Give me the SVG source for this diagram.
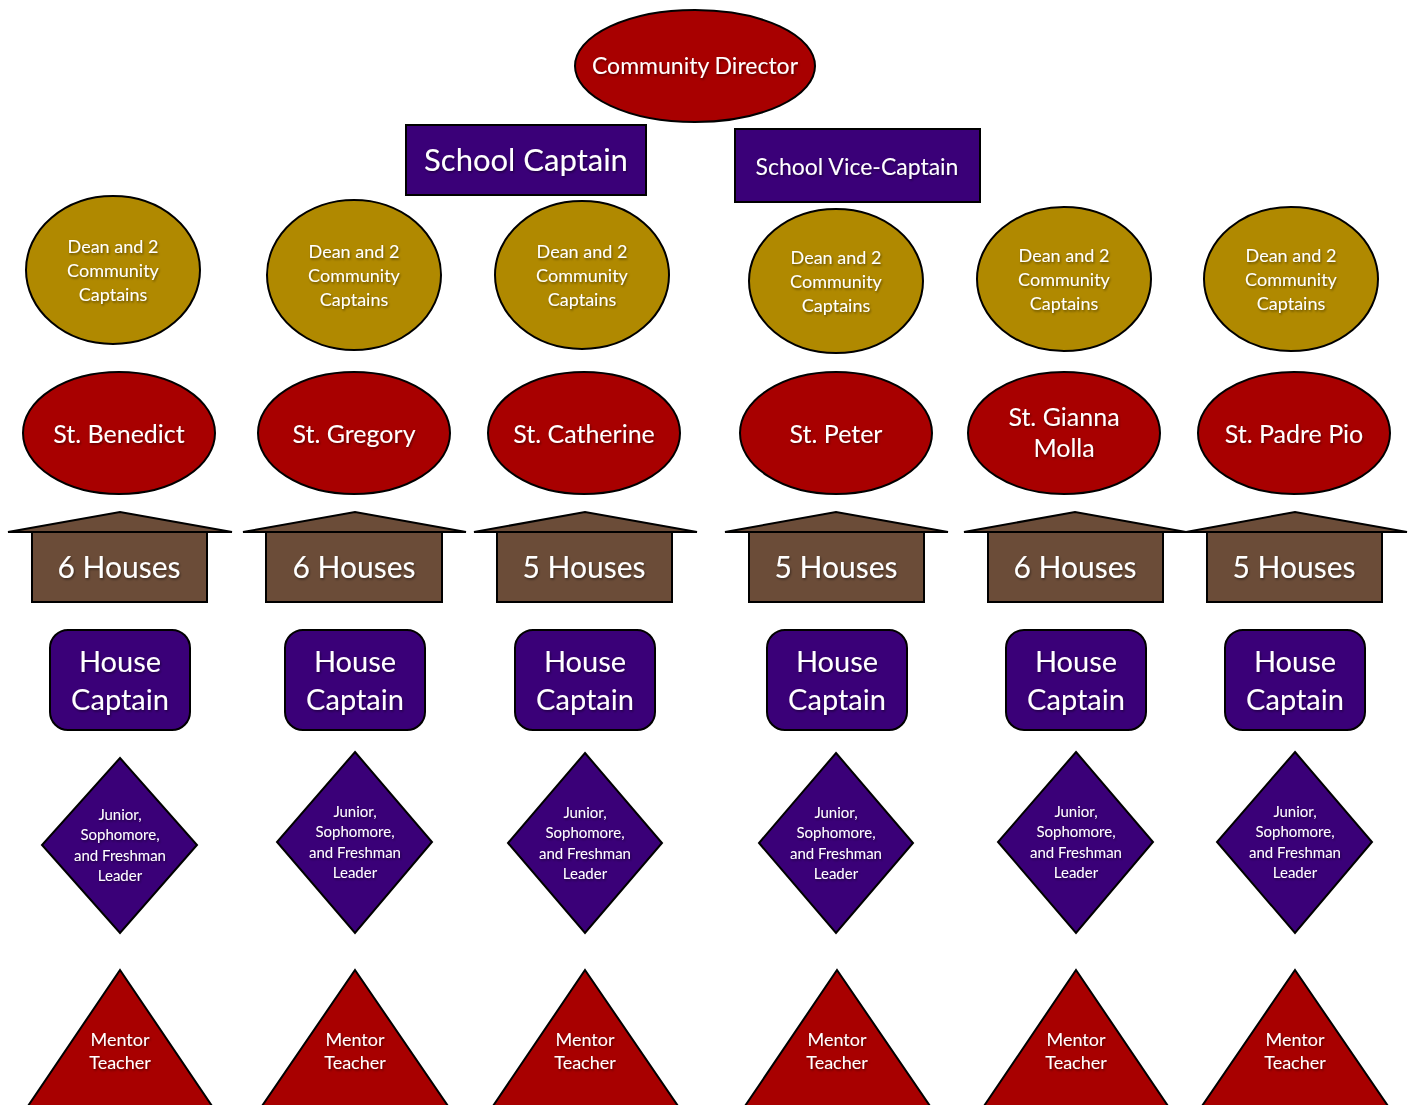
<svg xmlns="http://www.w3.org/2000/svg" width="1413" height="1105" viewBox="0 0 1413 1105">
<defs>
<filter id="ts" x="-10%" y="-30%" width="120%" height="160%"><feDropShadow dx="1" dy="1.5" stdDeviation="1" flood-color="#000" flood-opacity="0.45"/></filter>
<style>
.red{fill:#a80000;stroke:#000;stroke-width:2}
.gold{fill:#b08900;stroke:#000;stroke-width:2}
.pur{fill:#3a0078;stroke:#000;stroke-width:2}
.brn{fill:#6b4c38;stroke:#000;stroke-width:2}
text{font-family:Lato,"Open Sans",sans-serif;fill:#fff;text-anchor:middle;filter:url(#ts)}
.t22{font-size:23px}
.t30{font-size:31px}
.g{font-size:18px}
.s{font-size:25px}
.h{font-size:30px}
.hc{font-size:29px}
.d{font-size:15px}
.m{font-size:18px}
</style>
</defs>
<rect width="1413" height="1105" fill="#fff"/>
<g id="community-director"><ellipse class="red" cx="695" cy="66" rx="120" ry="56"/><text class="t22" x="695" y="74">Community Director</text></g>
<g id="school-captain"><rect class="pur" x="406" y="125" width="240" height="70"/><text class="t30" x="526" y="171">School Captain</text></g>
<g id="school-vice-captain"><rect class="pur" x="735" y="129" width="245" height="73"/><text class="t22" x="857" y="175">School Vice-Captain</text></g>

<g id="dean-1"><ellipse class="gold" cx="113" cy="270" rx="87" ry="74"/><text class="g"><tspan x="113" y="253">Dean and 2</tspan><tspan x="113" y="277">Community</tspan><tspan x="113" y="301">Captains</tspan></text></g>
<g id="dean-2"><ellipse class="gold" cx="354" cy="275" rx="87" ry="75"/><text class="g"><tspan x="354" y="258">Dean and 2</tspan><tspan x="354" y="282">Community</tspan><tspan x="354" y="306">Captains</tspan></text></g>
<g id="dean-3"><ellipse class="gold" cx="582" cy="275" rx="87" ry="74"/><text class="g"><tspan x="582" y="258">Dean and 2</tspan><tspan x="582" y="282">Community</tspan><tspan x="582" y="306">Captains</tspan></text></g>
<g id="dean-4"><ellipse class="gold" cx="836" cy="281" rx="87" ry="72"/><text class="g"><tspan x="836" y="264">Dean and 2</tspan><tspan x="836" y="288">Community</tspan><tspan x="836" y="312">Captains</tspan></text></g>
<g id="dean-5"><ellipse class="gold" cx="1064" cy="279" rx="87" ry="72"/><text class="g"><tspan x="1064" y="262">Dean and 2</tspan><tspan x="1064" y="286">Community</tspan><tspan x="1064" y="310">Captains</tspan></text></g>
<g id="dean-6"><ellipse class="gold" cx="1291" cy="279" rx="87" ry="72"/><text class="g"><tspan x="1291" y="262">Dean and 2</tspan><tspan x="1291" y="286">Community</tspan><tspan x="1291" y="310">Captains</tspan></text></g>

<g id="st-benedict"><ellipse class="red" cx="119" cy="433" rx="96" ry="61"/><text class="s" x="119" y="443">St. Benedict</text></g>
<g id="st-gregory"><ellipse class="red" cx="354" cy="433" rx="96" ry="61"/><text class="s" x="354" y="443">St. Gregory</text></g>
<g id="st-catherine"><ellipse class="red" cx="584" cy="433" rx="96" ry="61"/><text class="s" x="584" y="443">St. Catherine</text></g>
<g id="st-peter"><ellipse class="red" cx="836" cy="433" rx="96" ry="61"/><text class="s" x="836" y="443">St. Peter</text></g>
<g id="st-gianna-molla"><ellipse class="red" cx="1064" cy="433" rx="96" ry="61"/><text class="s"><tspan x="1064" y="426">St. Gianna</tspan><tspan x="1064" y="457">Molla</tspan></text></g>
<g id="st-padre-pio"><ellipse class="red" cx="1294" cy="433" rx="96" ry="61"/><text class="s" x="1294" y="443">St. Padre Pio</text></g>

<g id="houses-1"><polygon class="brn" points="8,532 120,512 232,532"/><rect class="brn" x="32" y="532" width="175" height="70"/><text class="h" x="119" y="578">6 Houses</text></g>
<g id="houses-2"><polygon class="brn" points="243,532 355,512 466,532"/><rect class="brn" x="266" y="532" width="176" height="70"/><text class="h" x="354" y="578">6 Houses</text></g>
<g id="houses-3"><polygon class="brn" points="474,532 585,512 697,532"/><rect class="brn" x="497" y="532" width="175" height="70"/><text class="h" x="584" y="578">5 Houses</text></g>
<g id="houses-4"><polygon class="brn" points="725,532 836,512 948,532"/><rect class="brn" x="749" y="532" width="175" height="70"/><text class="h" x="836" y="578">5 Houses</text></g>
<g id="houses-5"><polygon class="brn" points="964,532 1075,512 1186,532"/><rect class="brn" x="988" y="532" width="175" height="70"/><text class="h" x="1075" y="578">6 Houses</text></g>
<g id="houses-6"><polygon class="brn" points="1186,532 1295,512 1407,532"/><rect class="brn" x="1207" y="532" width="175" height="70"/><text class="h" x="1294" y="578">5 Houses</text></g>

<g id="house-captain-1"><rect class="pur" x="50" y="630" width="140" height="100" rx="18"/><text class="hc"><tspan x="120" y="672">House</tspan><tspan x="120" y="710">Captain</tspan></text></g>
<g id="house-captain-2"><rect class="pur" x="285" y="630" width="140" height="100" rx="18"/><text class="hc"><tspan x="355" y="672">House</tspan><tspan x="355" y="710">Captain</tspan></text></g>
<g id="house-captain-3"><rect class="pur" x="515" y="630" width="140" height="100" rx="18"/><text class="hc"><tspan x="585" y="672">House</tspan><tspan x="585" y="710">Captain</tspan></text></g>
<g id="house-captain-4"><rect class="pur" x="767" y="630" width="140" height="100" rx="18"/><text class="hc"><tspan x="837" y="672">House</tspan><tspan x="837" y="710">Captain</tspan></text></g>
<g id="house-captain-5"><rect class="pur" x="1006" y="630" width="140" height="100" rx="18"/><text class="hc"><tspan x="1076" y="672">House</tspan><tspan x="1076" y="710">Captain</tspan></text></g>
<g id="house-captain-6"><rect class="pur" x="1225" y="630" width="140" height="100" rx="18"/><text class="hc"><tspan x="1295" y="672">House</tspan><tspan x="1295" y="710">Captain</tspan></text></g>

<g id="leader-1"><polygon class="pur" points="120,758 197,845 120,933 42,845"/><text class="d"><tspan x="120" y="820">Junior,</tspan><tspan x="120" y="840">Sophomore,</tspan><tspan x="120" y="861">and Freshman</tspan><tspan x="120" y="881">Leader</tspan></text></g>
<g id="leader-2"><polygon class="pur" points="355,752 432,842 355,933 277,842"/><text class="d"><tspan x="355" y="817">Junior,</tspan><tspan x="355" y="837">Sophomore,</tspan><tspan x="355" y="858">and Freshman</tspan><tspan x="355" y="878">Leader</tspan></text></g>
<g id="leader-3"><polygon class="pur" points="585,753 662,843 585,933 508,843"/><text class="d"><tspan x="585" y="818">Junior,</tspan><tspan x="585" y="838">Sophomore,</tspan><tspan x="585" y="859">and Freshman</tspan><tspan x="585" y="879">Leader</tspan></text></g>
<g id="leader-4"><polygon class="pur" points="836,753 913,843 836,933 759,843"/><text class="d"><tspan x="836" y="818">Junior,</tspan><tspan x="836" y="838">Sophomore,</tspan><tspan x="836" y="859">and Freshman</tspan><tspan x="836" y="879">Leader</tspan></text></g>
<g id="leader-5"><polygon class="pur" points="1076,752 1153,842 1076,933 998,842"/><text class="d"><tspan x="1076" y="817">Junior,</tspan><tspan x="1076" y="837">Sophomore,</tspan><tspan x="1076" y="858">and Freshman</tspan><tspan x="1076" y="878">Leader</tspan></text></g>
<g id="leader-6"><polygon class="pur" points="1295,752 1372,842 1295,933 1217,842"/><text class="d"><tspan x="1295" y="817">Junior,</tspan><tspan x="1295" y="837">Sophomore,</tspan><tspan x="1295" y="858">and Freshman</tspan><tspan x="1295" y="878">Leader</tspan></text></g>

<g id="mentor-1"><polygon class="red" points="120,970 212,1106 28,1106"/><text class="m"><tspan x="120" y="1046">Mentor</tspan><tspan x="120" y="1069">Teacher</tspan></text></g>
<g id="mentor-2"><polygon class="red" points="355,970 448,1106 262,1106"/><text class="m"><tspan x="355" y="1046">Mentor</tspan><tspan x="355" y="1069">Teacher</tspan></text></g>
<g id="mentor-3"><polygon class="red" points="585,970 678,1106 493,1106"/><text class="m"><tspan x="585" y="1046">Mentor</tspan><tspan x="585" y="1069">Teacher</tspan></text></g>
<g id="mentor-4"><polygon class="red" points="837,970 930,1106 745,1106"/><text class="m"><tspan x="837" y="1046">Mentor</tspan><tspan x="837" y="1069">Teacher</tspan></text></g>
<g id="mentor-5"><polygon class="red" points="1076,970 1168,1106 984,1106"/><text class="m"><tspan x="1076" y="1046">Mentor</tspan><tspan x="1076" y="1069">Teacher</tspan></text></g>
<g id="mentor-6"><polygon class="red" points="1295,970 1388,1106 1202,1106"/><text class="m"><tspan x="1295" y="1046">Mentor</tspan><tspan x="1295" y="1069">Teacher</tspan></text></g>

<g id="connectors"></g>
</svg>
